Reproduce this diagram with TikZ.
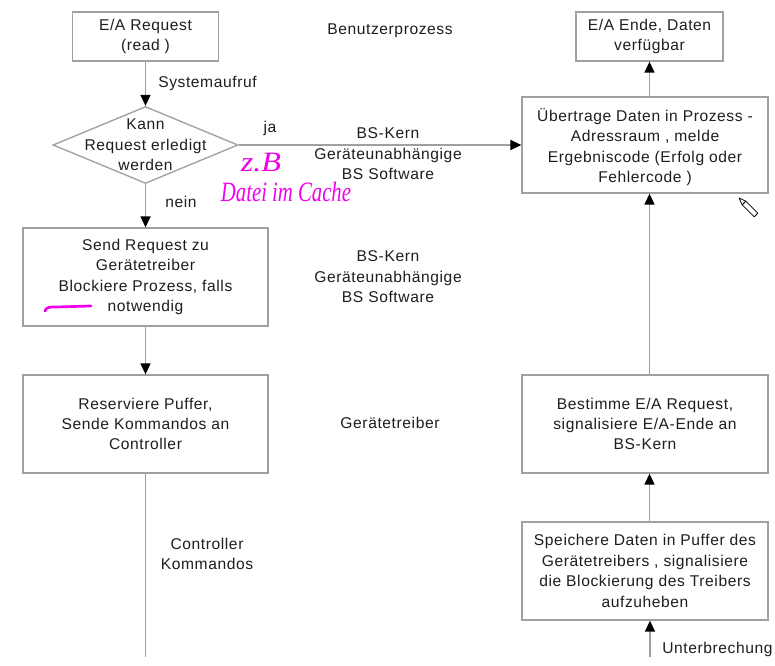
\documentclass[tikz,border=0pt]{standalone}
\usepackage{fontspec}
\setmainfont{Liberation Sans}[LetterSpace=3.8]
\newfontfamily\notefont{Liberation Serif}
\usetikzlibrary{arrows.meta,shapes.geometric}
\definecolor{linegray}{RGB}{160,160,160}
\definecolor{inkgray}{RGB}{30,30,30}
\definecolor{penpink}{RGB}{240,0,235}

\begin{document}
\begin{tikzpicture}[x=0.75pt,y=-0.75pt,
  txt/.style={font=\fontsize{11.7}{15.3}\selectfont, text=inkgray, align=center, inner sep=0pt},
  box/.style={txt, draw=linegray, line width=1pt, rectangle},
  flow/.style={draw=linegray, line width=1pt, -{Triangle[width=7.5pt,length=8.2pt,color=black]}},
  plain/.style={draw=linegray, line width=1pt},
  note/.style={font=\notefont\itshape\fontsize{21}{24}\selectfont, text=penpink, inner sep=0pt}
]
\useasboundingbox (0,0) rectangle (775,666);
\fill[white] (0,0) rectangle (775,666);

% left column: request path
\node[box, minimum width=109.5pt, minimum height=36.75pt] (req) at (145.5,36.5) {E/A Request\\(read )};
\node[draw=linegray, line width=1pt, shape=diamond, minimum width=138.75pt, minimum height=57.75pt, inner sep=0pt] (dec) at (145.5,145) {};
\node[txt] (dectxt) at (dec.center) {Kann\\Request erledigt\\werden};
\node[box, minimum width=183.75pt, minimum height=73.5pt] (send) at (145.5,277) {Send Request zu\\Gerätetreiber\\Blockiere Prozess, falls\\notwendig};
\node[box, minimum width=183.75pt, minimum height=73.5pt] (resv) at (145.5,424) {Reserviere Puffer,\\Sende Kommandos an\\Controller};
\coordinate (ctrlend) at (145.5,657);

% right column: completion path
\node[box, minimum width=110.25pt, minimum height=36.75pt] (done) at (649.5,36.5) {E/A Ende, Daten\\verfügbar};
\node[box, minimum width=184.5pt, minimum height=72pt] (copy) at (645,145) {};
\node[txt] (copytxt) at (645,147) {Übertrage Daten in Prozess -\\Adressraum , melde\\Ergebniscode (Erfolg oder\\Fehlercode )};
\node[box, minimum width=184.5pt, minimum height=73.5pt] (find) at (645,424) {Bestimme E/A Request,\\signalisiere E/A-Ende an\\BS-Kern};
\node[box, minimum width=184.5pt, minimum height=73.5pt] (store) at (645,571) {Speichere Daten in Puffer des\\Gerätetreibers , signalisiere\\die Blockierung des Treibers\\aufzuheben};
\coordinate (irq) at (650,657);

% layer captions
\node[txt] (l1) at (390,31) {Benutzerprozess};
\node[txt] (l2) at (388,154) {BS-Kern\\Geräteunabhängige\\BS Software};
\node[txt] (l3) at (388,277) {BS-Kern\\Geräteunabhängige\\BS Software};
\node[txt] (l4) at (390,423) {Gerätetreiber};

% connectors
\draw[flow] (req) -- (dec);
\draw[flow] (dec) -- (send);
\draw[flow] (send) -- (resv);
\draw[plain] (resv) -- (ctrlend);
\draw[flow] (dec.east) -- (copy.west);
\draw[flow] (copy.north -| done) -- (done);
\draw[flow] (find.north -| done) -- (copy.south -| done);
\draw[flow] (store.north -| done) -- (find.south -| done);
\draw[flow] (irq) -- (store.south -| irq);

% connector labels
\node[txt, anchor=west] (sysc) at (158,83) {Systemaufruf};
\node[txt] (ja) at (270,128) {ja};
\node[txt] (nein) at (181,202) {nein};
\node[txt] (cmd) at (207,554) {Controller\\Kommandos};
\node[txt, anchor=west] (intr) at (662,649) {Unterbrechung};

% handwritten annotation
\node[note] (zb) at (261,163) {\scalebox{1.15}[1]{z.B}};
\node[note] (cache) at (286,192) {\scalebox{0.74}[1]{Datei im Cache}};
\draw[penpink, line width=2pt, line cap=round] (45,311) .. controls (46,307) and (50,307) .. (56,307) -- (91,306);

% pen cursor
\draw[black, line width=0.6pt, line join=round] (739,198) -- (745.8,201.2) -- (757.8,213.2) -- (754.2,216.8) -- (742.2,204.8) -- cycle;
\draw[black, line width=0.6pt] (745.8,201.2) -- (742.2,204.8);
\end{tikzpicture}
\end{document}
